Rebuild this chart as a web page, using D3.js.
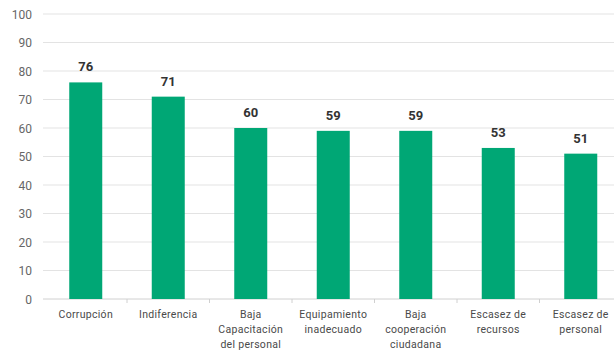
<!DOCTYPE html>
<html><head><meta charset="utf-8">
<script src="https://cdn.jsdelivr.net/npm/d3@7"></script>
<style>body{margin:0;background:#fff;overflow:hidden}</style>
</head><body>
<svg id="c" width="614" height="351"></svg>
<script>
const categories = [["Corrupción"],["Indiferencia"],["Baja","Capacitación","del personal"],["Equipamiento","inadecuado"],["Baja","cooperación","ciudadana"],["Escasez de","recursos"],["Escasez de","personal"]];
const values = [76,71,60,59,59,53,51];
const yTicks = [0,10,20,30,40,50,60,70,80,90,100];

const svg = d3.select("#c");
const font = "Roboto, 'DejaVu Sans', sans-serif";
const x = d3.scaleBand().domain(d3.range(values.length)).range([44.5,622]).paddingInner(0.6).paddingOuter(0.3);
const y = d3.scaleLinear().domain([0,100]).range([299,14]);

svg.append("g").selectAll("line").data(yTicks.filter(d=>d>0)).join("line")
  .attr("x1",43).attr("x2",614).attr("y1",d=>y(d)).attr("y2",d=>y(d))
  .attr("stroke","#e3e3e3").attr("stroke-width",1);

const ya = svg.append("g").attr("transform","translate(37,0)")
  .call(d3.axisLeft(y).tickValues(yTicks).tickSize(0).tickPadding(0));
ya.select(".domain").remove();
ya.selectAll("text").attr("font-family",font).attr("font-size",12).attr("fill","#666").attr("dx",-5).attr("dy","0.34em");

const xa = svg.append("g").attr("transform","translate(0,299)");
xa.append("line").attr("x1",43).attr("x2",614).attr("stroke","#d0d0d0");
const step = x.step();
const bounds = d3.range(1, values.length).map(i => x(i) - (step - x.bandwidth())/2);
xa.selectAll(".tk").data(bounds).join("line").attr("class","tk")
  .attr("x1",d=>d).attr("x2",d=>d).attr("y1",0).attr("y2",4).attr("stroke","#d0d0d0");

svg.append("g").selectAll("rect").data(values).join("rect")
  .attr("x",(d,i)=>x(i)).attr("width",x.bandwidth())
  .attr("y",d=>y(d)).attr("height",d=>y(0)-y(d)).attr("fill","#00a775");

svg.append("g").selectAll("text").data(values).join("text")
  .attr("x",(d,i)=>x(i)+x.bandwidth()/2).attr("y",d=>y(d)-11)
  .attr("text-anchor","middle").attr("font-family",font).attr("font-weight","bold")
  .attr("font-size",13).attr("fill","#333").text(d=>d);

const cl = svg.append("g").selectAll("text").data(categories).join("text")
  .attr("x",(d,i)=>x(i)+x.bandwidth()/2).attr("y",318)
  .attr("text-anchor","middle").attr("font-family",font).attr("font-size",10.5)
  .attr("fill","#4a4a4a").attr("letter-spacing","0.3px");
cl.selectAll("tspan").data(d=>d).join("tspan")
  .attr("x",function(){return this.parentNode.getAttribute("x");})
  .attr("dy",(d,i)=>i===0?0:15).text(d=>d);
</script>
</body></html>
